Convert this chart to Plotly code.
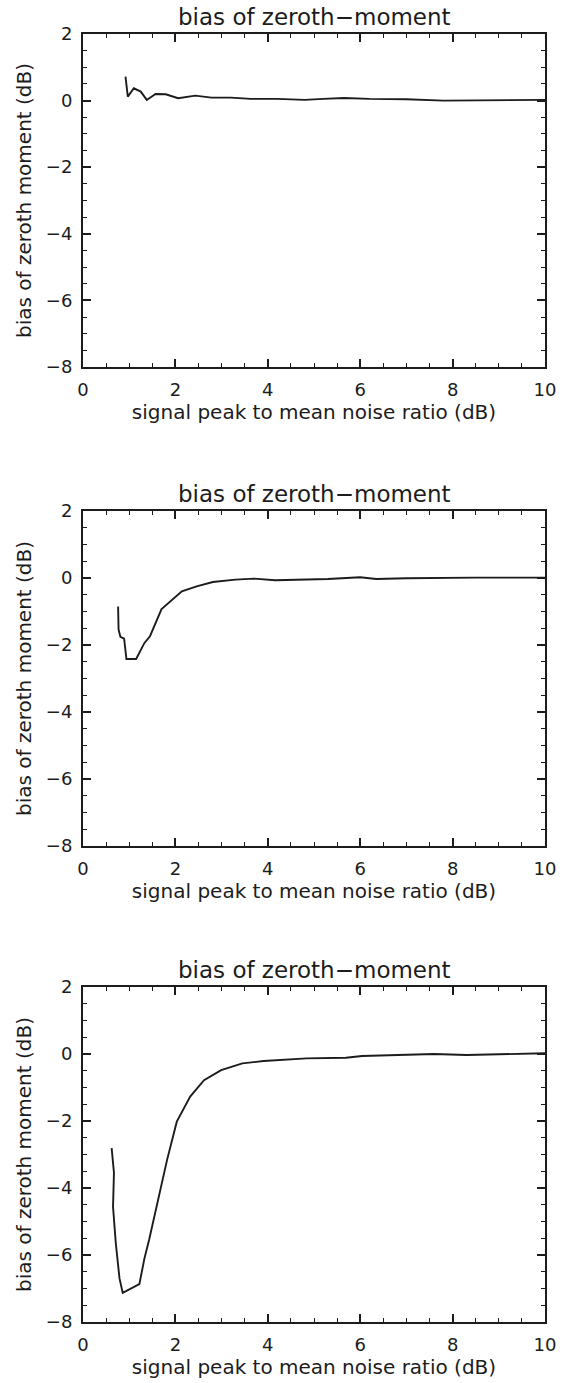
import plotly.graph_objects as go

# ---- data ----
x_top = [0.92, 0.97, 1.10, 1.25, 1.38, 1.57, 1.79, 2.06, 2.43, 2.78, 3.2, 3.63, 4.2, 4.8, 5.2, 5.65, 6.2, 7.0, 7.8, 8.5, 9.2, 10.0]
y_top = [0.72, 0.12, 0.37, 0.27, 0.02, 0.20, 0.19, 0.07, 0.15, 0.09, 0.09, 0.05, 0.05, 0.02, 0.05, 0.08, 0.05, 0.04, 0.0, 0.01, 0.02, 0.02]

x_mid = [0.76, 0.77, 0.81, 0.89, 0.94, 1.15, 1.33, 1.45, 1.70, 2.14, 2.46, 2.81, 3.3, 3.7, 4.16, 4.7, 5.3, 6.0, 6.35, 7.0, 7.5, 8.5, 10.0]
y_mid = [-0.85, -1.54, -1.76, -1.81, -2.42, -2.42, -1.94, -1.74, -0.93, -0.40, -0.25, -0.12, -0.05, -0.02, -0.07, -0.05, -0.03, 0.02, -0.03, -0.01, 0.0, 0.01, 0.01]

x_bot = [0.62, 0.67, 0.65, 0.71, 0.79, 0.86, 1.22, 1.33, 1.43, 1.61, 1.82, 2.03, 2.32, 2.62, 2.99, 3.45, 3.91, 4.84, 5.69, 6.04, 6.96, 7.6, 8.3, 9.02, 10.0]
y_bot = [-2.81, -3.54, -4.56, -5.65, -6.7, -7.13, -6.87, -6.1, -5.55, -4.46, -3.16, -2.02, -1.27, -0.78, -0.48, -0.28, -0.21, -0.13, -0.11, -0.06, -0.03, 0.0, -0.03, 0.0, 0.02]

panel_title = "bias of zeroth\u2212moment"
x_label = "signal peak to mean noise ratio (dB)"
y_label = "bias of zeroth moment (dB)"
x_ticks = [0, 2, 4, 6, 8, 10]
y_ticks = [-8, -6, -4, -2, 0, 2]

series = [(x_top, y_top), (x_mid, y_mid), (x_bot, y_bot)]

# ---- layout ----
W, H = 568, 1383
domains = [[0.7415, 1.0], [0.3696, 0.6297], [0.0, 0.2601]]
FONT = "DejaVu Sans"
INK = "#1c1c1c"

fig = go.Figure()
for i, (xs, ys) in enumerate(series):
    n = "" if i == 0 else str(i + 1)
    fig.add_trace(go.Scatter(x=xs, y=ys, mode="lines", xaxis="x" + n, yaxis="y" + n,
                             line=dict(color=INK, width=1.9), showlegend=False))
    axis_common = dict(showgrid=False, zeroline=False, showline=True, linecolor=INK,
                       linewidth=2, mirror="ticks", ticks="inside", ticklen=8,
                       tickwidth=1.5, tickcolor=INK, ticklabelstandoff=5,
                       tickfont=dict(family=FONT, size=18, color=INK),
                       minor=dict(ticks="inside", ticklen=4, tickwidth=1.3,
                                  tickcolor=INK, dtick=0.5, showgrid=False))
    fig.update_layout({
        "xaxis" + n: dict(axis_common, range=[0, 10], tickvals=x_ticks,
                          anchor="y" + n, domain=[0, 1],
                          title=dict(text=x_label, font=dict(family=FONT, size=20, color=INK),
                                     standoff=1)),
        "yaxis" + n: dict(axis_common, range=[-8, 2], tickvals=y_ticks,
                          anchor="x" + n, domain=domains[i],
                          title=dict(text=y_label, font=dict(family=FONT, size=20, color=INK),
                                     standoff=9)),
    })
    fig.add_annotation(text=panel_title, xref="paper", yref="paper", x=0.5,
                       y=domains[i][1], yanchor="bottom", yshift=2, showarrow=False,
                       font=dict(family=FONT, size=23, color=INK))

fig.update_layout(width=W, height=H, margin=dict(l=83, r=14, t=34, b=61),
                  paper_bgcolor="white", plot_bgcolor="white")

fig.write_html("out.html")
